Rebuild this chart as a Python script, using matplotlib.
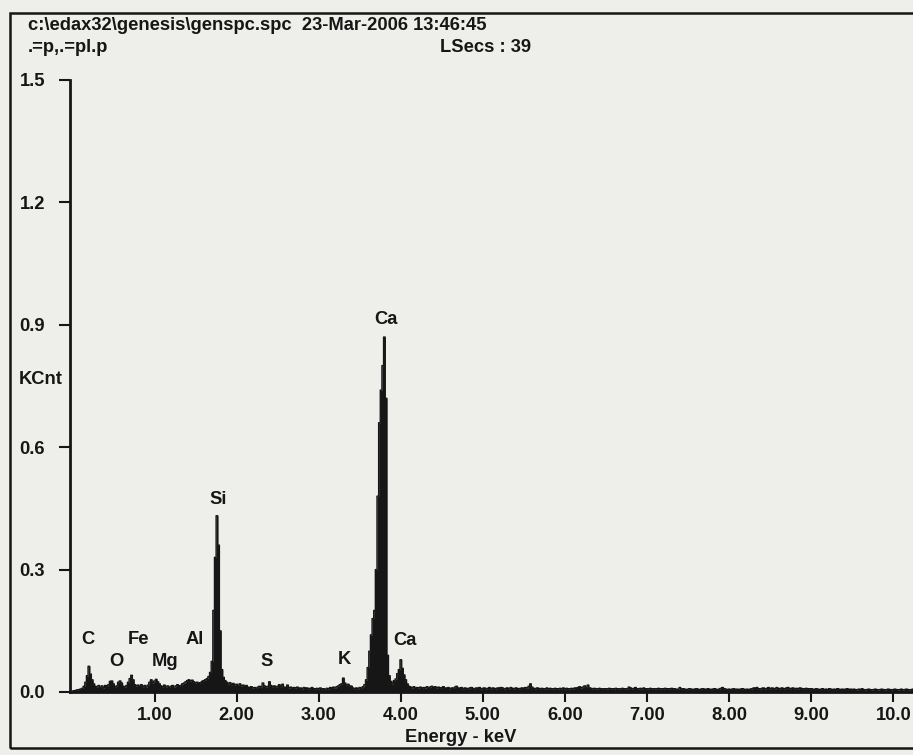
import numpy as np
import matplotlib
matplotlib.use("Agg")
import matplotlib.pyplot as plt
from matplotlib.patches import Rectangle


# -----------------------------------------------------
# 1. DATA (EDAX spectrum, counts in 1/1000 KCnt, 0.02 keV channels)
# -----------------------------------------------------
CHANNEL_KEV = 0.02

counts = [
    2, 3, 4, 5, 6, 7, 9, 14, 24, 40, 63, 44, 30, 20, 14, 12, 16, 11, 15, 10, 16, 14, 18, 26, 27,
    20, 13, 15, 24, 27, 22, 14, 12, 16, 24, 33, 41, 30, 18, 15, 17, 14, 18, 13, 16, 12, 17, 24, 30, 22,
    27, 31, 25, 20, 15, 13, 17, 12, 15, 11, 14, 16, 12, 15, 18, 14, 16, 20, 22, 25, 28, 30, 27, 29, 25,
    22, 24, 21, 23, 26, 28, 30, 33, 38, 48, 75, 200, 330, 432, 360, 150, 55, 36, 28, 24, 20, 23, 18, 21, 17,
    19, 16, 20, 15, 17, 14, 16, 12, 11, 13, 10, 11, 9, 12, 14, 13, 22, 15, 12, 14, 25, 16, 13, 15, 12,
    14, 18, 13, 19, 12, 11, 17, 10, 12, 9, 11, 10, 12, 9, 10, 8, 11, 9, 10, 8, 9, 11, 8, 7, 9,
    8, 10, 7, 8, 6, 9, 8, 11, 9, 12, 10, 13, 15, 18, 20, 34, 22, 17, 19, 15, 14, 10, 8, 10, 8,
    11, 9, 13, 18, 30, 60, 100, 140, 180, 200, 300, 480, 660, 740, 800, 870, 720, 90, 40, 26, 20, 28, 32, 45, 55,
    79, 58, 42, 30, 20, 14, 12, 10, 13, 9, 11, 10, 12, 9, 11, 10, 13, 9, 12, 14, 11, 13, 10, 12, 9,
    11, 13, 10, 9, 11, 8, 10, 9, 12, 14, 10, 9, 11, 8, 10, 9, 8, 10, 11, 9, 8, 10, 9, 11, 8,
    9, 10, 8, 9, 11, 8, 10, 9, 8, 10, 9, 11, 10, 8, 9, 10, 8, 11, 9, 8, 10, 9, 8, 9, 10,
    9, 11, 10, 14, 20, 12, 9, 8, 10, 9, 8, 9, 7, 8, 10, 8, 9, 7, 8, 9, 8, 7, 9, 8, 10,
    8, 9, 7, 8, 9, 8, 10, 9, 11, 13, 10, 12, 15, 11, 17, 10, 9, 8, 9, 7, 8, 9, 8, 7, 8,
    7, 8, 9, 7, 8, 7, 9, 8, 7, 8, 9, 8, 7, 8, 12, 10, 8, 9, 11, 8, 7, 9, 8, 10, 8,
    7, 8, 9, 7, 8, 7, 8, 9, 7, 8, 7, 9, 8, 7, 8, 9, 7, 8, 6, 7, 11, 7, 8, 7, 6,
    7, 8, 7, 6, 7, 8, 7, 6, 7, 8, 7, 6, 8, 7, 6, 7, 8, 7, 6, 7, 9, 11, 8, 7, 6,
    7, 6, 7, 8, 6, 7, 6, 7, 8, 7, 6, 7, 6, 7, 8, 10, 9, 11, 8, 7, 9, 10, 8, 9, 11,
    8, 10, 9, 8, 11, 9, 8, 10, 9, 8, 10, 11, 8, 9, 10, 8, 9, 8, 10, 9, 8, 7, 9, 8, 7,
    8, 7, 6, 8, 7, 6, 7, 8, 6, 7, 6, 8, 7, 6, 7, 6, 8, 7, 6, 7, 6, 7, 8, 6, 7,
    6, 7, 6, 5, 7, 6, 8, 6, 5, 6, 7, 6, 5, 6, 7, 6, 5, 6, 7, 6, 5, 6, 7, 6, 5,
    6, 7, 6, 5, 6, 7, 5, 6, 7, 6, 5, 6, 7,
]

# element labels: name, energy (keV), label height (KCnt)
peak_names = ["C", "O", "Fe", "Mg", "Al", "Si", "S", "K", "Ca", "Ca"]
peak_kev = [0.19, 0.53, 0.80, 1.13, 1.49, 1.78, 2.36, 3.31, 3.82, 4.05]
peak_label_y = [0.128, 0.074, 0.128, 0.074, 0.128, 0.473, 0.074, 0.079, 0.914, 0.126]

x_ticks = [1, 2, 3, 4, 5, 6, 7, 8, 9, 10]
x_tick_labels = ["1.00", "2.00", "3.00", "4.00", "5.00", "6.00", "7.00", "8.00", "9.00", "10.0"]
y_ticks = [0.0, 0.3, 0.6, 0.9, 1.2, 1.5]
y_tick_labels = ["0.0", "0.3", "0.6", "0.9", "1.2", "1.5"]

header = "c:\\edax32\\genesis\\genspc.spc  23-Mar-2006 13:46:45"
subheader = ".=p,.=pl.p"
live_secs = "LSecs : 39"


# -----------------------------------------------------
# 2. PLOT
# -----------------------------------------------------
W, H = 913, 755
PAPER = "#eeeeea"
INK = "#161616"
FS = 13.2


def fx(px):
    return px / W


def fy(py):
    return 1 - py / H


def plot_spectrum():
    plt.rcParams["font.family"] = ["Liberation Sans", "DejaVu Sans"]
    plt.rcParams["font.weight"] = "bold"

    fig = plt.figure(figsize=(W / 100, H / 100), dpi=100, facecolor=PAPER)
    ax = fig.add_axes([fx(70), fy(692), 1 - fx(70), fy(80) - fy(692)])
    ax.set_facecolor(PAPER)

    kev = np.arange(len(counts)) * CHANNEL_KEV
    kcnt = np.array(counts) / 1000.0
    ax.fill_between(kev, kcnt, step="mid", color=INK, lw=0)
    ax.step(kev, kcnt, where="mid", color=INK, lw=1.0)

    for name, x, y in zip(peak_names, peak_kev, peak_label_y):
        ax.text(x, y, name, ha="center", va="center", fontsize=FS,
                fontweight="bold", color=INK)

    ax.set_xlim(-0.03, 10.24)
    ax.set_ylim(0, 1.5)

    for s in ["top", "right"]:
        ax.spines[s].set_visible(False)
    for s in ["left", "bottom"]:
        ax.spines[s].set_linewidth(2.0)
        ax.spines[s].set_color(INK)

    ax.set_xticks(x_ticks)
    ax.set_xticklabels(x_tick_labels)
    ax.set_yticks(y_ticks)
    ax.set_yticklabels(y_tick_labels)
    ax.tick_params(axis="x", direction="out", length=7, width=1.5, pad=4,
                   labelsize=FS, colors=INK)
    ax.tick_params(axis="y", direction="out", length=8, width=1.5, pad=10,
                   labelsize=FS, colors=INK)
    for lab in ax.get_xticklabels() + ax.get_yticklabels():
        lab.set_fontweight("bold")

    # texts around the plot
    fig.text(fx(28), fy(26), header, ha="left", va="center", fontsize=FS,
             fontweight="bold", color=INK)
    fig.text(fx(28), fy(47), subheader, ha="left", va="center", fontsize=FS,
             fontweight="bold", color=INK)
    fig.text(fx(440), fy(47), live_secs, ha="left", va="center", fontsize=FS,
             fontweight="bold", color=INK)
    fig.text(fx(19), fy(380), "KCnt", ha="left", va="center", fontsize=FS,
             fontweight="bold", color=INK)
    fig.text(fx(461), fy(737), "Energy - keV", ha="center", va="center",
             fontsize=FS, fontweight="bold", color=INK)

    # outer frame
    frame = Rectangle((fx(10), fy(748)), fx(940), fy(13) - fy(748),
                      transform=fig.transFigure, fill=False, lw=1.8,
                      edgecolor=INK, clip_on=False)
    fig.add_artist(frame)

    fig.savefig("out.png", dpi=100, facecolor=PAPER)


def main():
    plot_spectrum()


if __name__ == "__main__":
    main()
